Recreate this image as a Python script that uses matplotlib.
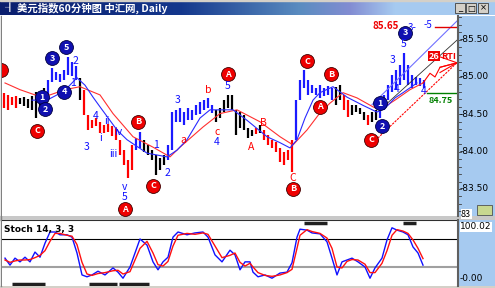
import numpy as np
import matplotlib.pyplot as plt
from matplotlib.patches import Rectangle

plt.rcParams['font.family'] = ['Noto Sans CJK SC', 'DejaVu Sans']

# ---- price bars (bar index t, high, low, wave colour) ----
bar_high = [84.79, 84.76, 84.73, 84.75, 84.72, 84.73, 84.71, 84.75, 84.80, 84.76,
            84.85, 84.96, 85.12, 85.07, 85.04, 85.09, 85.27, 85.20, 85.15, 84.99,
            84.83, 84.49, 84.42, 84.45, 84.40, 84.36, 84.37, 84.34, 84.32, 84.16,
            84.02, 83.89, 84.09, 84.18, 84.26, 84.16, 84.09, 84.02, 83.96, 83.91,
            83.96, 84.09, 84.53, 84.56, 84.58, 84.53, 84.58, 84.56, 84.63, 84.67,
            84.69, 84.72, 84.63, 84.56, 84.58, 84.69, 84.76, 84.76, 84.56, 84.53,
            84.49, 84.32, 84.29, 84.32, 84.36, 84.29, 84.22, 84.16, 84.13, 84.05,
            84.00, 84.02, 84.16, 84.69, 84.96, 85.09, 84.96, 84.89, 84.85, 84.89,
            84.85, 84.88, 84.85, 84.87, 84.89, 84.76, 84.69, 84.63, 84.63, 84.58,
            84.53, 84.49, 84.53, 84.56, 84.63, 84.76, 84.89, 85.03, 85.09, 85.16,
            85.32, 85.16, 85.03, 85.00, 84.99, 84.96]
bar_low = [84.58, 84.56, 84.62, 84.58, 84.64, 84.61, 84.58, 84.56, 84.45, 84.58,
           84.69, 84.76, 84.93, 84.96, 84.93, 84.96, 85.03, 85.01, 84.96, 84.69,
           84.49, 84.29, 84.32, 84.34, 84.25, 84.25, 84.26, 84.21, 84.16, 83.96,
           83.82, 83.65, 83.75, 84.02, 84.05, 84.00, 83.96, 83.89, 83.69, 83.75,
           83.82, 83.89, 84.02, 84.40, 84.40, 84.36, 84.42, 84.42, 84.49, 84.50,
           84.56, 84.58, 84.52, 84.40, 84.45, 84.53, 84.58, 84.56, 84.22, 84.32,
           84.29, 84.18, 84.21, 84.24, 84.25, 84.16, 84.09, 84.05, 84.00, 83.86,
           83.82, 83.89, 83.73, 84.16, 84.69, 84.85, 84.76, 84.79, 84.76, 84.72,
           84.75, 84.76, 84.69, 84.63, 84.69, 84.56, 84.46, 84.49, 84.53, 84.50,
           84.42, 84.36, 84.40, 84.42, 84.45, 84.56, 84.69, 84.80, 84.83, 84.89,
           84.96, 84.89, 84.85, 84.89, 84.88, 84.85]
bar_wave = list("rrrr" + "k" * 7 + "b" * 8 + "k" + "r" * 13 + "bb" + "k" * 6 + "b" * 12
                + "k" * 10 + "r" + "k" + "r" * 8 + "b" * 10 + "kk" + "rr" + "k" * 4 + "r"
                + "kk" + "b" * 12)
bar_t = np.arange(1, len(bar_high) + 1)

# ---- moving averages ----
ma_red_t = [1.25, 5, 8.75, 12.5, 16.25, 20, 25, 28.25, 33.25, 38.25, 42.5, 45, 50.75,
            55, 59.25, 65, 70, 73.25, 76.75, 80, 82.5, 85.75, 89.25, 93.25, 95, 98.75,
            102.5, 105.75]
ma_red_p = [84.92, 84.83, 84.76, 84.76, 84.83, 84.87, 84.76, 84.51, 84.20, 84.06,
            83.93, 84.06, 84.33, 84.51, 84.56, 84.40, 84.20, 84.09, 84.29, 84.52,
            84.65, 84.79, 84.72, 84.60, 84.56, 84.69, 84.83, 84.92]
ma_blue_t = [8, 11.75, 14.25, 16.75, 19.25, 21.25, 23.25, 25, 29.25, 31.75, 36.75,
             41.75, 44.25, 46.75, 50, 52.5, 55, 58.25, 61.75, 66.75, 70, 72.5, 74.25,
             76.25, 78.25, 80, 83.25, 86.75, 90.75, 94.25, 96.25, 98.75, 100.75, 104.25]
ma_blue_p = [84.69, 84.69, 84.76, 84.85, 84.99, 84.89, 84.73, 84.60, 84.29, 84.16,
             83.98, 83.93, 84.02, 84.16, 84.45, 84.56, 84.56, 84.56, 84.42, 84.20,
             84.12, 84.05, 84.16, 84.45, 84.69, 84.79, 84.87, 84.73, 84.62, 84.53,
             84.58, 84.72, 84.79, 84.92]

# ---- Elliott wave labels ----
num_t = [10.5, 11.25, 13, 16, 16.5, 95, 95.5, 101.25]
num_p = [84.73, 84.57, 85.25, 84.80, 85.40, 84.65, 84.34, 85.59]
num_txt = ["1", "2", "3", "4", "5", "1", "2", "3"]

let_t = [0.3, 9.25, 31.25, 34.5, 38.25, 57, 73.25, 76.75, 80, 82.75, 92.75]
let_p = [85.09, 84.28, 83.23, 84.40, 83.54, 85.04, 83.50, 85.21, 84.60, 85.04, 84.16]
let_txt = ["", "C", "A", "B", "C", "A", "B", "C", "A", "B", "C"]

blue_lab_t = [18.75, 18.25, 21.75, 24, 26.75, 25.25, 29.5, 28.25, 31.25, 31.25, 39,
              41.75, 44.5, 57, 54.25, 98.25, 101, 99.25, 106]
blue_lab_p = [85.21, 84.92, 84.06, 84.48, 84.41, 84.18, 84.26, 83.97, 83.53, 83.39,
              84.09, 83.71, 84.69, 84.88, 84.13, 85.23, 85.44, 84.84, 84.81]
blue_lab = ["2", "1", "3", "4", "ii", "i", "iv", "iii", "v", "5", "1", "2", "3", "5",
            "4", "3", "5", "4", "4"]
red_lab_t = [54.25, 52, 45.75, 62.75, 65.75, 73.25]
red_lab_p = [84.26, 84.83, 84.16, 84.06, 84.38, 83.65]
red_lab = ["c", "b", "a", "A", "B", "C"]

# ---- stochastic 14,3,3 ----
st_t = [1.25, 2.5, 3.75, 5, 6.25, 7.5, 8.75, 10, 11.25, 12.5, 13.75, 15, 16.75, 18,
        19.25, 20.5, 21.75, 23, 24.5, 26.25, 28.25, 29.5, 30.75, 32.5, 35, 36.75,
        38.25, 39.5, 40.75, 42, 43.25, 44.5, 46.75, 48.75, 50.75, 52, 53.75, 55.5,
        57.5, 58.75, 60, 61.25, 62.5, 63.25, 64.5, 66.25, 68, 70, 71.75, 73, 74.25,
        75, 76.75, 78, 80, 81.75, 83, 84.25, 85.5, 86.75, 88, 89.5, 91.25, 92.5,
        93.75, 95.5, 96.75, 98, 99.25, 100.75, 102, 103.25, 104.5, 105.75]
st_k = [39, 24, 39, 31, 41, 31, 52, 41, 71, 95, 95, 89, 89, 84, 50, 3, -1, 3, 11, 3,
        18, 9, -4, 20, 80, 67, 31, 14, 31, 41, 84, 95, 89, 93, 95, 84, 46, 31, 56, 46,
        14, 31, 31, 9, -1, 3, -4, 7, 9, 29, 84, 101, 99, 93, 91, 74, 39, 3, 31, 35, 39,
        31, 20, -4, 18, 39, 78, 104, 99, 95, 89, 63, 50, 24]
st_d = [35, 30, 33, 35, 35, 36, 40, 45, 55, 75, 92, 92, 88, 86, 68, 30, 5, 2, 6, 8,
        12, 13, 5, 10, 60, 75, 50, 25, 22, 32, 65, 88, 92, 90, 93, 90, 65, 40, 45, 50,
        30, 22, 28, 20, 8, 2, 0, 3, 8, 15, 60, 88, 100, 96, 92, 82, 60, 20, 18, 32, 36,
        35, 26, 8, 8, 28, 55, 88, 100, 97, 92, 78, 60, 38]
bot_seg = [(3, 11.25), (22.25, 29.25), (29.75, 37.25)]
top_seg = [(76, 81.75), (100.75, 104)]

axis_ticks = [85.50, 85.00, 84.50, 84.00, 83.50]

W, H = 495, 288
fig = plt.figure(figsize=(W / 100, H / 100), dpi=100)


def px_axes(x0, y0, x1, y1):
    return fig.add_axes([x0 / W, 1 - y1 / H, (x1 - x0) / W, (y1 - y0) / H])


bg = fig.add_axes([0, 0, 1, 1])
bg.set_xlim(0, W)
bg.set_ylim(H, 0)
bg.axis('off')

# title bar gradient
xs = np.linspace(0, W, W)
nodes = [0, 180, 300, 350, 395, 495]
cols = np.array([[10, 30, 110], [20, 55, 140], [90, 140, 192], [130, 140, 210],
                 [166, 202, 240], [166, 202, 240]]) / 255
grad = np.stack([np.interp(xs, nodes, cols[:, c]) for c in range(3)], axis=-1)
bg.imshow(grad[None, :, :], extent=(0, W, 15, 1), aspect='auto', zorder=0)
bg.add_patch(Rectangle((0, 0), W, 1, color='#d4d0c8'))
bg.add_patch(Rectangle((0, 216), W, 4, color='#c8c8c8'))
bg.add_patch(Rectangle((0, 286), W, 2, color='#d4d0c8'))
bg.plot([1, 1], [16, 286], color='#808080', lw=1)
bg.text(4, 8, '┨', color='white', fontsize=7, va='center', fontweight='bold')
bg.text(17, 8, '美元指数60分钟图 中汇网, Daily', color='white', fontsize=7.5,
        fontweight='bold', va='center')
for bx, sym in zip([455, 466, 478], ['_', '□', '×']):
    bg.add_patch(Rectangle((bx, 3), 10, 10, fc='#d4d0c8', ec='#404040', lw=0.6))
    bg.text(bx + 5, 8, sym, fontsize=6, ha='center', va='center', family='DejaVu Sans')

# ---- main price panel ----
ylo, yhi = 83.138, 85.817
ax = px_axes(2, 16, 458, 216)
ax.set_xlim(0.5, 114.5)
ax.set_ylim(ylo, yhi)
ax.set_xticks([])
ax.set_yticks([])
for s in ax.spines.values():
    s.set_visible(False)

cmap = {'r': '#ff0000', 'b': '#1a1aff', 'k': '#000000'}
ax.vlines(bar_t, bar_low, bar_high, colors=[cmap[c] for c in bar_wave], lw=1.6)
ax.plot(ma_red_t, ma_red_p, color='#ff3030', lw=0.8)
ax.plot(ma_blue_t, ma_blue_p, color='#2a2aff', lw=0.8)

# channel and projection lines on the last wave
ax.plot([93, 115], [84.63, 85.79], color='#7070ff', lw=0.8)
ax.plot([95, 115], [84.56, 85.53], color='#303030', lw=0.6)
ax.plot([93.25, 115], [84.12, 85.23], color='#ff0000', lw=0.8, ls=(0, (2, 1)))
ax.plot([108.75, 114.5], [85.67, 85.67], color='#e00000', lw=1)
ax.plot([106.75, 114.5], [84.79, 84.79], color='#008000', lw=1)
ax.plot([105.75, 107.5, 108.75, 110, 114.25], [84.92, 85.05, 85.0, 85.13, 85.19],
        color='#ff0000', lw=0.8)
for y0 in [85.27, 85.13, 85.06]:
    ax.plot([110, 114.25], [y0, 85.19], color='#ff0000', lw=0.8)

ax.scatter(num_t, num_p, s=100, c='#1010b0', edgecolors='#000040', lw=0.6, zorder=5)
for t, p, s in zip(num_t, num_p, num_txt):
    ax.text(t, p, s, color='white', fontsize=6.5, fontweight='bold', ha='center',
            va='center', zorder=6)
ax.scatter(let_t, let_p, s=100, c='#ee0000', edgecolors='#400000', lw=0.6, zorder=5,
           clip_on=True)
for t, p, s in zip(let_t, let_p, let_txt):
    if s:
        ax.text(t, p, s, color='white', fontsize=6.5, fontweight='bold', ha='center',
                va='center', zorder=6)
for t, p, s in zip(blue_lab_t, blue_lab_p, blue_lab):
    ax.text(t, p, s, color='#1010ff', fontsize=7.5, ha='center', va='center', zorder=6)
for t, p, s in zip(red_lab_t, red_lab_p, red_lab):
    ax.text(t, p, s, color='#ff0000', fontsize=7.5, ha='center', va='center', zorder=6)

ax.text(96.5, 85.68, '85.65', color='#ee0000', fontsize=7, fontweight='bold',
        ha='center', va='center')
ax.text(103, 85.66, '3-', color='#1010ff', fontsize=7, ha='center', va='center')
ax.text(107, 85.70, '-5', color='#1010ff', fontsize=7, ha='center', va='center')
ax.text(108.5, 85.28, '26', color='white', fontsize=6.5, fontweight='bold',
        ha='center', va='center', bbox=dict(fc='#ee0000', ec='none', pad=0.6))
ax.text(110.2, 85.28, 'RTI', color='#ee0000', fontsize=6.5, fontweight='bold',
        ha='left', va='center')
ax.text(110.25, 84.68, '84.75', color='#008000', fontsize=6.5, fontweight='bold',
        ha='center', va='center')

# right price scale
rax = px_axes(458, 16, 495, 216)
rax.set_facecolor('#a6caf0')
rax.set_xlim(0, 1)
rax.set_ylim(ylo, yhi)
rax.set_xticks([])
rax.set_yticks([])
for s in ['top', 'right', 'bottom']:
    rax.spines[s].set_visible(False)
rax.spines['left'].set_color('#606060')
rax.spines['left'].set_linewidth(1.5)
for v in np.arange(83.2, 85.81, 0.1):
    rax.plot([0, 0.08], [v, v], color='#404040', lw=0.6)
for v in axis_ticks:
    rax.text(0.03, v, f'-{v:.2f}', fontsize=6.5, va='center', ha='left',
             family='DejaVu Sans')
rax.text(0.08, 83.16, '83', fontsize=6.5, va='center', ha='left',
         bbox=dict(fc='white', ec='none', pad=0.3))
rax.add_patch(Rectangle((0.52, 83.145), 0.4, 0.14, fc='#c8d890', ec='#505050', lw=0.6))

# ---- stochastic panel ----
sax = px_axes(2, 220, 458, 286)
sax.set_xlim(0.5, 114.5)
sax.set_ylim(-20.7, 120.7)
sax.set_xticks([])
sax.set_yticks([])
for s in sax.spines.values():
    s.set_visible(False)
sax.plot([0.5, 114.5], [120, 120], color='#303030', lw=1.5)
sax.axhline(80, color='black', lw=0.8)
sax.axhline(20, color='#a0a0a0', lw=1.5)
sax.plot(st_t, st_k, color='#1010ff', lw=1)
sax.plot(st_t, st_d, color='#ff1010', lw=1)
for a, b in bot_seg:
    sax.plot([a, b], [-16.4, -16.4], color='#202020', lw=2.5, solid_capstyle='butt')
for a, b in top_seg:
    sax.plot([a, b], [114, 114], color='#202020', lw=2.5, solid_capstyle='butt')
sax.text(0.004, 0.93, 'Stoch 14, 3, 3', transform=sax.transAxes, fontsize=6.5,
         fontweight='bold', va='top', family='DejaVu Sans')

srax = px_axes(458, 220, 495, 286)
srax.set_facecolor('#a6caf0')
srax.set_xticks([])
srax.set_yticks([])
for s in ['top', 'right', 'bottom']:
    srax.spines[s].set_visible(False)
srax.spines['left'].set_color('#606060')
srax.spines['left'].set_linewidth(1.5)
srax.text(0.06, 0.9, '100.02', fontsize=6.5, va='center', family='DejaVu Sans',
          transform=srax.transAxes, bbox=dict(fc='white', ec='none', pad=0.3))
srax.text(0.03, 0.12, '-0.00', fontsize=6.5, va='center', family='DejaVu Sans',
          transform=srax.transAxes)

fig.savefig('out.png', dpi=100)
